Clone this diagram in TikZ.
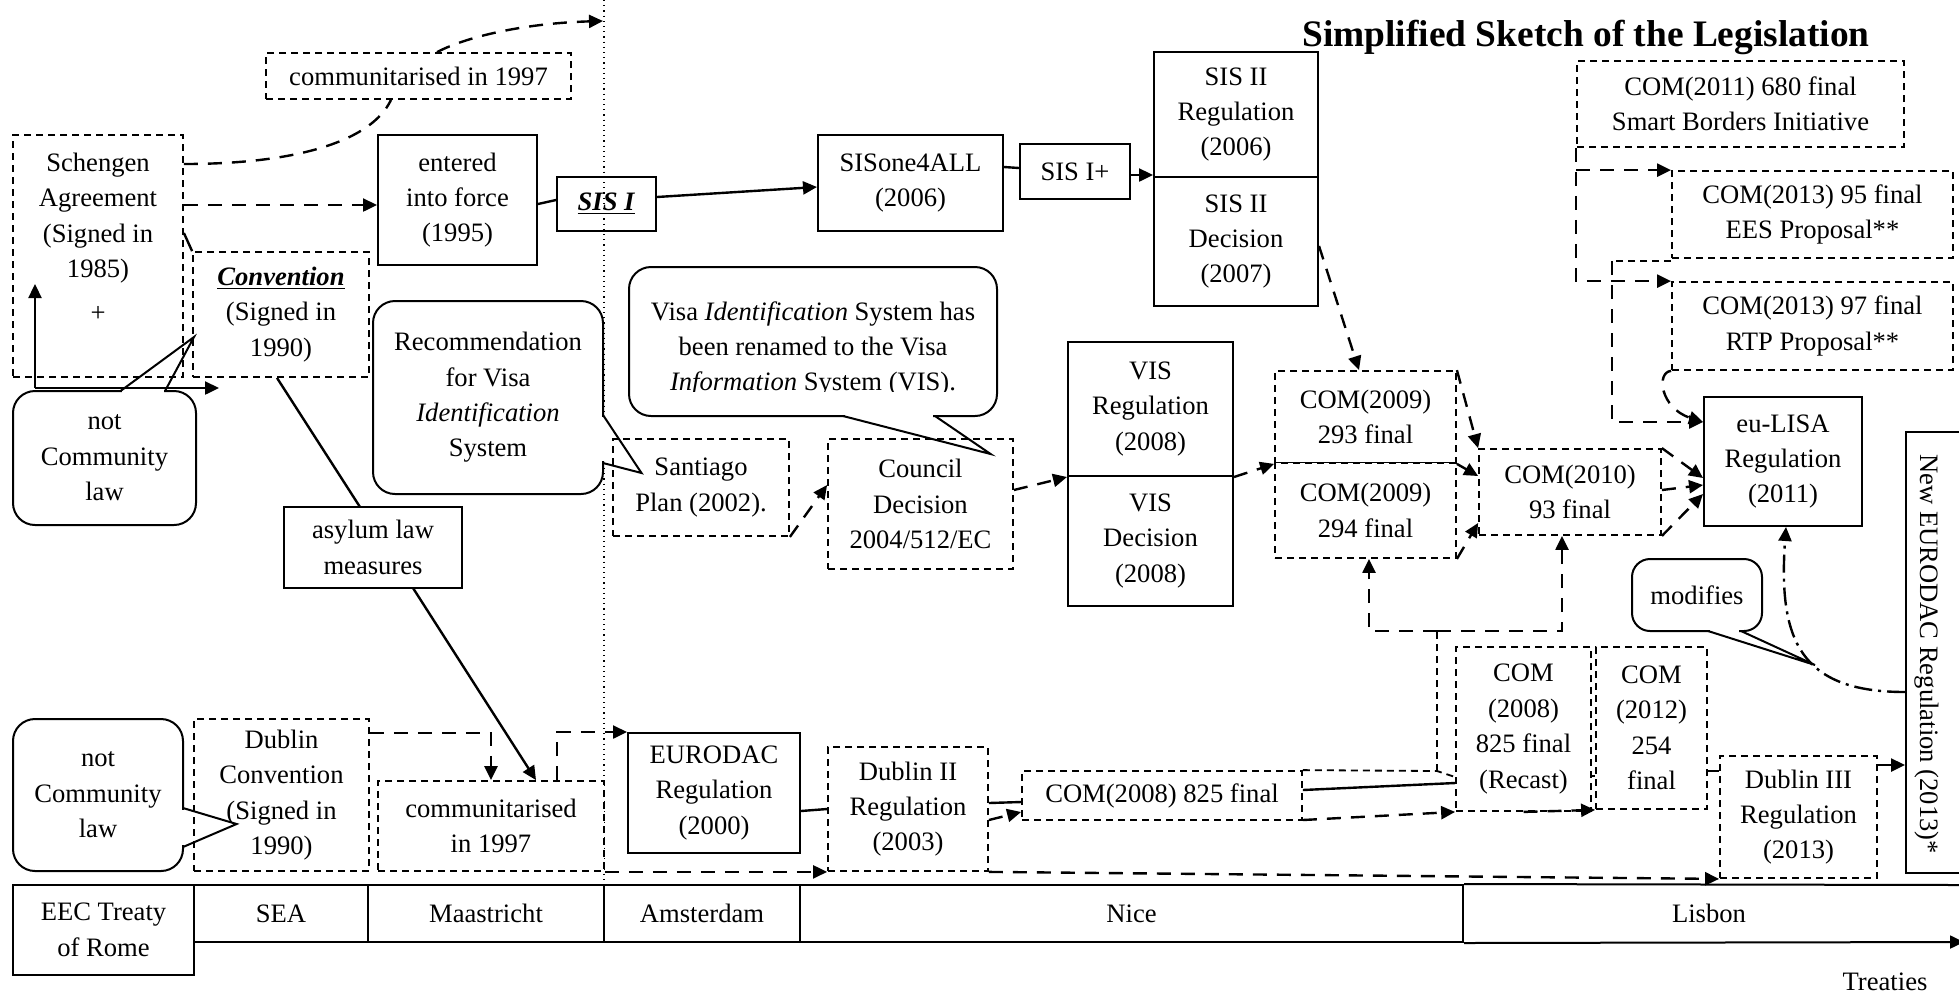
\documentclass[tikz,border=0pt]{standalone}
\usepackage{fontspec}
\setmainfont{Liberation Serif}
\usetikzlibrary{arrows.meta,fit}
\newcommand\bx[4]{\node[#1, fit={#2}] (#3) {}; \node (#3-t) at (#3.center) {#4};}
\begin{document}
\begin{tikzpicture}[x=0.5pt,y=-0.5pt,
  every node/.style={font=\fontsize{13.3}{17.7}\selectfont, align=center},
  sbox/.style={draw, line width=1pt, inner sep=0pt},
  dbox/.style={draw, line width=0.9pt, dash pattern=on 3.5pt off 2.5pt, inner sep=0pt, fill=white},
  bubble/.style={draw, line width=1pt, rounded corners=11pt, fill=white, inner sep=0pt},
  conn/.style={line width=1.2pt},
  dconn/.style={line width=1.2pt, dash pattern=on 7pt off 5pt},
  tdash/.style={line width=0.9pt, dash pattern=on 3.5pt off 2.5pt},
  ddconn/.style={line width=1.2pt, dash pattern=on 9pt off 3pt on 1.5pt off 3pt},
  arr/.style={-{Triangle[length=7pt,width=6.5pt]}},
  ptr/.style={line width=1pt},
]
\useasboundingbox (0,0) rectangle (1959,993);

% dotted treaty border
\draw[dotted, line width=0.6pt] (604,0) -- (604,885);

% title
\node[font=\bfseries\fontsize{18.7}{22}\selectfont] (title) at (1586,37) {Simplified Sketch of the Legislation};

% ---------- upper row ----------
\node[dbox, fit={(13,135)(183,377)}] (schengen) {};
\node (schtxt) at (98,237) {Schengen\\Agreement\\(Signed in\\1985)\\[4pt]+};
\bx{dbox}{(193,252)(369,377)}{conv}{\underline{\textbf{\textit{Convention}}}\\(Signed in\\1990)}
\bx{sbox}{(378,135)(537,265)}{entered}{entered\\into force\\(1995)}
\bx{sbox}{(557,177)(656,231)}{sis1}{\underline{\textbf{\textit{SIS I}}}}
\bx{sbox}{(818,135)(1003,231)}{sisone}{SISone4ALL\\(2006)}
\bx{sbox}{(1020,144)(1130,199)}{sisplus}{SIS I+}
\bx{sbox}{(1154,52)(1318,177)}{sis2reg}{SIS II\\Regulation\\(2006)}
\bx{sbox}{(1154,177)(1318,306)}{sis2dec}{SIS II\\Decision\\(2007)}
\bx{dbox}{(266,53)(571,99)}{c97a}{communitarised in 1997}

\coordinate (amst) at (603,21);
\draw[dconn] (schengen.east |- 0,164) .. controls (300,164) and (372,140) .. (c97a.south -| 391,0);
\draw[dconn, arr] (c97a.north -| 437,0) .. controls (470,35) and (530,23) .. (amst);
\draw[dconn, arr] (schengen.east |- 0,205) -- (entered.west |- 0,205);
\draw[conn] (entered.east |- 0,204) -- (sis1.west |- 0,200);
\draw[conn, arr] (sis1.east |- 0,197) -- (sisone.west |- 0,187);
\draw[conn] (sisone.east |- 0,167) -- (sisplus.west |- 0,168);
\draw[conn, arr] (sisplus.east |- 0,175) -- (sis2reg.west |- 0,175);
\draw[conn] (schengen.east |- 0,233) -- (conv.north west);

% right top cluster
\bx{dbox}{(1577,61)(1904,147)}{c680}{COM(2011) 680 final\\Smart Borders Initiative}
\bx{dbox}{(1672,171)(1953,258)}{c95}{COM(2013) 95 final\\EES Proposal**}
\bx{dbox}{(1672,282)(1953,370)}{c97}{COM(2013) 97 final\\RTP Proposal**}
\bx{sbox}{(1704,397)(1862,526)}{eulisa}{eu-LISA\\Regulation\\(2011)}

\draw[dconn, arr] (c680.south west) |- (c97.north west);
\draw[dconn, arr] (c680.south west |- c95.north west) -- (c95.north west);
\draw[tdash] (c95.south west |- 0,261) -- (1612,261);
\draw[dconn, arr] (1612,261) |- (eulisa.west |- 0,422);
\draw[dconn, arr] (c97.south west) .. controls (1656,372) and (1660,408) .. (eulisa.west |- 0,422);

% middle row
\bx{dbox}{(613,439)(789,536)}{santiago}{Santiago\\Plan (2002).}
\bx{dbox}{(828,439)(1013,569)}{council}{Council\\Decision\\2004/512/EC}
\bx{sbox}{(1068,342)(1233,476)}{visreg}{VIS\\Regulation\\(2008)}
\bx{sbox}{(1068,476)(1233,606)}{visdec}{VIS\\Decision\\(2008)}
\bx{dbox}{(1275,371)(1456,463)}{c293}{COM(2009)\\293 final}
\bx{dbox}{(1275,463)(1456,558)}{c294}{COM(2009)\\294 final}
\bx{dbox}{(1479,449)(1661,535)}{c2010}{COM(2010)\\93 final}

\draw[dconn, arr] (santiago.south east) -- (council.west |- 0,485);
\draw[dconn, arr] (council.east |- 0,490) -- (visreg.south west);
\draw[dconn, arr] (visreg.south east) -- (c293.south west);
\draw[dconn, arr] (sis2dec.east |- 0,246) -- (c293.north -| 1359,0);
\draw[dconn, arr] (c293.north east) -- (c2010.north west);
\draw[dconn, arr] (c293.south east) -- (c2010.west |- 0,476);
\draw[dconn, arr] (c294.south east) -- (c2010.west |- 0,523);
\draw[dconn, arr] (c2010.north east) -- (eulisa.west |- 0,478);
\draw[dconn, arr] (c2010.east |- 0,490) -- (eulisa.west |- 0,485);
\draw[dconn, arr] (c2010.south east) -- (eulisa.west |- 0,494);

% asylum line (behind its box)
\bx{dbox}{(378,781)(604,871)}{c97b}{communitarised\\in 1997}
\draw[conn] (conv.south -| 277,0) -- (360,507);
\draw[conn, arr] (413,588) -- (c97b.north -| 536,0);
\bx{sbox, fill=white}{(284,507)(462,588)}{asylum}{asylum law\\measures}

% ---------- lower row ----------
\bx{dbox}{(194,719)(369,871)}{dubconv}{Dublin\\Convention\\(Signed in\\1990)}
\bx{sbox}{(628,733)(800,853)}{eurodac}{EURODAC\\Regulation\\(2000)}
\bx{dbox}{(828,747)(988,871)}{dub2}{Dublin II\\Regulation\\(2003)}
\bx{dbox}{(1022,771)(1302,820)}{c825w}{COM(2008) 825 final}
\bx{dbox}{(1456,647)(1591,811)}{recast}{COM\\(2008)\\825 final\\(Recast)}
\bx{dbox}{(1596,647)(1707,809)}{c254}{COM\\(2012)\\254\\final}
\bx{dbox}{(1720,756)(1877,878)}{dub3}{Dublin III\\Regulation\\(2013)}
\node[sbox, fit={(1906,432)(1975,873)}] (neweu) {};
\node[rotate=-90] (newtxt) at (1927,654) {New EURODAC Regulation (2013)*};

\draw[dconn, arr] (dubconv.east |- 0,733) -| (c97b.north -| 491,0);
\draw[dconn, arr] (c97b.north -| 557,0) |- (eurodac.north west);
\draw[dconn, arr] (c97b.south east) -- (dub2.south west);
\draw[dconn, arr] (dub2.south east) -- (dub3.south west);
\draw[conn] (eurodac.east |- 0,811) -- (dub2.west |- 0,809);
\draw[conn] (dub2.east |- 0,803) -- (c825w.west |- 0,802);
\draw[dconn, arr] (dub2.east |- 0,820) -- (c825w.west |- 0,812);
\draw[conn] (c825w.east |- 0,790) -- (recast.west |- 0,783);
\draw[dconn, arr] (c825w.east |- 0,820) -- (recast.south west);
\draw[dconn, arr] (recast.south) -- (c254.south west);
\draw[line width=1pt] (recast.east |- 0,776) -- (c254.west |- 0,776);
\draw[line width=1pt] (c254.east |- 0,771) -- (dub3.west |- 0,771);
\draw[conn, arr] (dub3.east |- 0,765) -- (neweu.west |- 0,765);

\coordinate (fork) at (1437,631);
\draw[tdash] (c825w.north east) -- (1437,771) -- (recast.west |- 0,777);
\draw[tdash] (1437,771) -- (fork);
\draw[dconn, arr] (fork) -| (c294.south -| 1369,0);
\draw[dconn, arr] (fork) -| (c2010.south -| 1562,0);

% ---------- callouts ----------
\bx{bubble}{(13,391)(196,525)}{ncl1}{not\\Community\\law}
\fill[white] (122,388.6) rectangle (164,393.6);
\draw[ptr] (120.5,391) -- (194,337) -- (165,391);

\bx{bubble}{(13,719)(183,871)}{ncl2}{not\\Community\\law}
\fill[white] (180.5,810) rectangle (185.5,845);
\draw[ptr] (183,808) -- (236.6,824) -- (183,847);

\bx{bubble}{(373,301)(603,494)}{rec}{Recommendation\\for Visa\\\textit{Identification}\\System}
\fill[white] (600.5,417) rectangle (605.5,461);
\draw[ptr] (603,415) -- (641.5,473) -- (603,463);

\node[bubble, fit={(629,267)(997,416)}] (visab) {};
\begin{scope}
\clip (629,267) rectangle (997,391);
\node (visatxt) at (813,349) {Visa \textit{Identification} System has\\been renamed to the Visa\\\textit{Information} System (VIS).};
\end{scope}
\fill[white] (845,413.5) rectangle (933,418.5);
\draw[ptr] (843,416) -- (990.6,454) -- (935,416);

\bx{bubble, rounded corners=9pt}{(1632,559)(1762,631)}{mod}{modifies}
\fill[white] (1710,628.5) rectangle (1739,633.5);
\draw[ptr] (1708,631) -- (1815,665) -- (1741,631);

\draw[ddconn, arr] (neweu.west |- 0,692) .. controls (1800,692) and (1778,640) .. (eulisa.south -| 1786,0);

% L arrow
\coordinate (lc) at (35,388);
\coordinate (lup) at (35,284);
\coordinate (lrt) at (219,388);
\draw[conn, arr] (lc) -- (lup);
\draw[conn, arr] (lc) -- (lrt);

% ---------- treaty timeline ----------
\bx{sbox}{(13,885)(194,975)}{eec}{EEC Treaty\\of Rome}
\bx{sbox}{(194,885)(368,942)}{sea}{SEA}
\bx{sbox}{(368,885)(604,942)}{maas}{Maastricht}
\bx{sbox}{(604,885)(800,942)}{amsd}{Amsterdam}
\bx{sbox}{(800,885)(1463,942)}{nice}{Nice}
\bx{inner sep=0pt}{(1463,885)(1955,942)}{lisbon}{Lisbon}
\coordinate (tend) at (1964,942);
\coordinate (ttop) at (1959,885);
\draw[line width=1pt] (nice.north east) -- (ttop);
\draw[line width=1pt, arr] (nice.south east) -- (tend);
\node (treaties) at (1885,982) {Treaties};
\end{tikzpicture}
\end{document}
